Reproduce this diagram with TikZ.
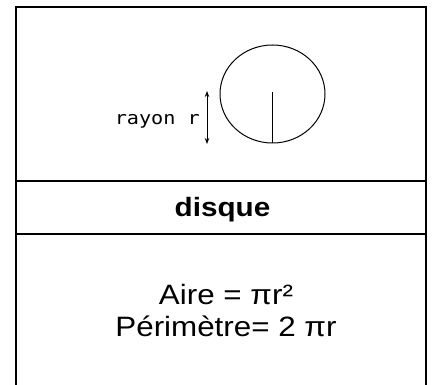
\documentclass[tikz,border=0pt]{standalone}
\usepackage{graphicx}
\usepackage{fontspec}
\setmainfont{Liberation Sans}
\newfontfamily\pixfont{DejaVu Sans Mono}
\usetikzlibrary{arrows.meta,positioning,shapes.geometric}
\newcommand{\wide}[1]{\scalebox{1.12}[1]{#1}}

\begin{document}
\begin{tikzpicture}[
  x=1pt, y=-1pt,
  every node/.style={inner sep=0pt},
  frame/.style={line width=2pt},
  thin line/.style={line width=1pt},
  labeltext/.style={font=\pixfont\fontsize{18}{21}\selectfont},
  titletext/.style={font=\bfseries\fontsize{26.5}{31}\selectfont},
  formtext/.style={font=\fontsize{28}{32}\selectfont},
]
  \useasboundingbox (0,0) rectangle (432,385);
  % Frame
  \coordinate (tl) at (16,7);
  \coordinate (tr) at (426,7);
  \coordinate (bl) at (16,385);
  \coordinate (br) at (426,385);
  \draw[frame] (bl) -- (tl) -- (tr) -- (br);
  \draw[frame] (16,181) -- (426,181);
  \draw[frame] (16,234) -- (426,234);
  % Disc
  \node[draw,thin line,ellipse,minimum width=105pt,minimum height=98pt] (disc) at (272.5,94) {};
  \coordinate (mid) at (272.5,92);
  \draw[thin line] (mid) -- (disc.south);
  % Radius
  \coordinate (rtop) at (207,91);
  \coordinate (rbot) at (207,144);
  \draw[thin line,{Stealth[length=6pt,width=4.5pt]}-{Stealth[length=6pt,width=4.5pt]}] (rtop) -- (rbot);
  \node[labeltext,anchor=base east] (rayon) at (200,125) {\wide{rayon r}};
  % Title
  \node[titletext,anchor=base] (disque) at (222.5,217) {\wide{disque}};
  % Formulas
  \node[formtext,anchor=base] (aire) at (226,305) {\wide{Aire = πr²}};
  \node[formtext,anchor=base] (perim) at (226,337) {\wide{Périmètre= 2 πr}};
\end{tikzpicture}
\end{document}
